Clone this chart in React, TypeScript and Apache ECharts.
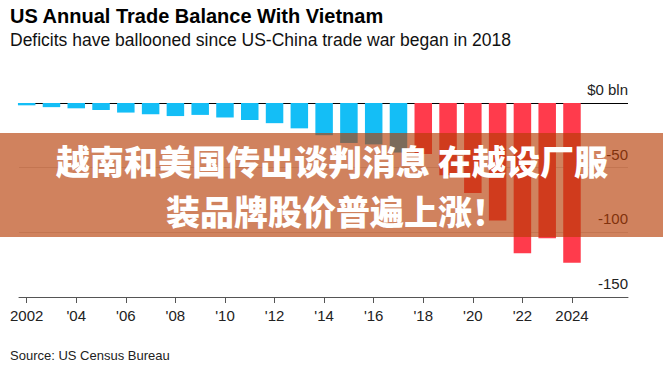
import React, { useEffect, useRef } from "react";
import * as echarts from "echarts";

const years = [2002, 2003, 2004, 2005, 2006, 2007, 2008, 2009, 2010, 2011, 2012, 2013, 2014, 2015, 2016, 2017, 2018, 2019, 2020, 2021, 2022, 2023, 2024];
const balance = [-1.8, -3.2, -4.1, -5.4, -7.4, -8.7, -10.1, -9.2, -11.2, -13.1, -15.6, -19.6, -24.9, -30.9, -32.0, -38.3, -39.5, -55.8, -69.6, -90.9, -116.1, -104.6, -123.5];
const tickYears = [2002, 2004, 2006, 2008, 2010, 2012, 2014, 2016, 2018, 2020, 2022, 2024];
const yTicks = [-150, -100, -50, 0];

const title = "US Annual Trade Balance With Vietnam";
const subtitle = "Deficits have ballooned since US-China trade war began in 2018";
const source = "Source: US Census Bureau";
const bannerLines = ["越南和美国传出谈判消息 在越设厂服", "装品牌股价普遍上涨！"];

const BLUE = "#14BEF6";
const RED = "#FF3B4C";

export default function App() {
  const ref = useRef<HTMLDivElement>(null);
  useEffect(() => {
    if (!ref.current) return;
    const chart = echarts.init(ref.current, null, { renderer: "svg" });
    chart.setOption({
      animation: false,
      backgroundColor: "#fff",
      textStyle: { fontFamily: "Liberation Sans, Arial, sans-serif" },
      grid: { left: 19, right: 35, top: 103, bottom: 76 },
      xAxis: {
        type: "value",
        min: 2001.69,
        max: 2026.26,
        splitLine: { show: false },
        axisLine: { show: true, onZero: false, lineStyle: { color: "#555", width: 1 } },
        axisTick: { show: true, length: 6, customValues: tickYears, lineStyle: { color: "#555" } },
        axisLabel: {
          customValues: tickYears,
          margin: 11,
          fontSize: 15,
          color: "#222",
          formatter: (v: number) => (v === 2002 || v === 2024 ? String(v) : "'" + String(v).slice(2)),
        },
      },
      yAxis: {
        type: "value",
        position: "right",
        min: yTicks[0],
        max: yTicks[yTicks.length - 1],
        interval: 50,
        axisLine: { show: false },
        axisTick: { show: false },
        splitLine: { show: true, lineStyle: { color: ["#555", "#dcdcdc", "#dcdcdc", "#000"], width: 1 } },
        axisLabel: {
          inside: true,
          margin: 0,
          fontSize: 15,
          color: "#222",
          verticalAlign: "bottom",
          padding: [0, 0, 6, 0],
          formatter: (v: number) => (v === 0 ? "$0 bln" : String(v)),
        },
      },
      series: [
        {
          type: "bar",
          barWidth: 17.5,
          data: years.map((y, i) => [y, balance[i]]),
          itemStyle: {
            color: (p: any) => (p.value[0] >= 2018 ? RED : BLUE),
          },
        },
      ],
      graphic: [
        {
          type: "text",
          left: 10,
          top: 6,
          style: { text: title, fontSize: 20, fontWeight: "bold", fill: "#000", fontFamily: "Liberation Sans, Arial, sans-serif" },
        },
        {
          type: "text",
          left: 10,
          top: 31,
          style: { text: subtitle, fontSize: 17.5, fill: "#111", fontFamily: "Liberation Sans, Arial, sans-serif" },
        },
        {
          type: "text",
          left: 10,
          top: 349,
          style: { text: source, fontSize: 13, fill: "#222", fontFamily: "Liberation Sans, Arial, sans-serif" },
        },
        {
          type: "rect",
          z: 100,
          shape: { x: 0, y: 133, width: 663, height: 104 },
          style: { fill: "rgba(181,59,3,0.64)" },
        },
        {
          type: "text",
          z: 101,
          x: 332,
          y: 160.5,
          style: {
            text: bannerLines[0],
            fontSize: 34,
            lineHeight: 36,
            fontWeight: 900,
            fill: "#fff",
            align: "center",
            verticalAlign: "middle",
            fontFamily: "Noto Sans CJK SC, sans-serif",
          },
        },
        {
          type: "text",
          z: 101,
          x: 336,
          y: 210,
          style: {
            text: bannerLines[1],
            fontSize: 34,
            lineHeight: 36,
            fontWeight: 900,
            fill: "#fff",
            align: "center",
            verticalAlign: "middle",
            fontFamily: "Noto Sans CJK SC, sans-serif",
          },
        },
      ],
    });
    return () => chart.dispose();
  }, []);
  return <div ref={ref} style={{ position: "fixed", left: 0, top: 0, width: 663, height: 373 }} />;
}
